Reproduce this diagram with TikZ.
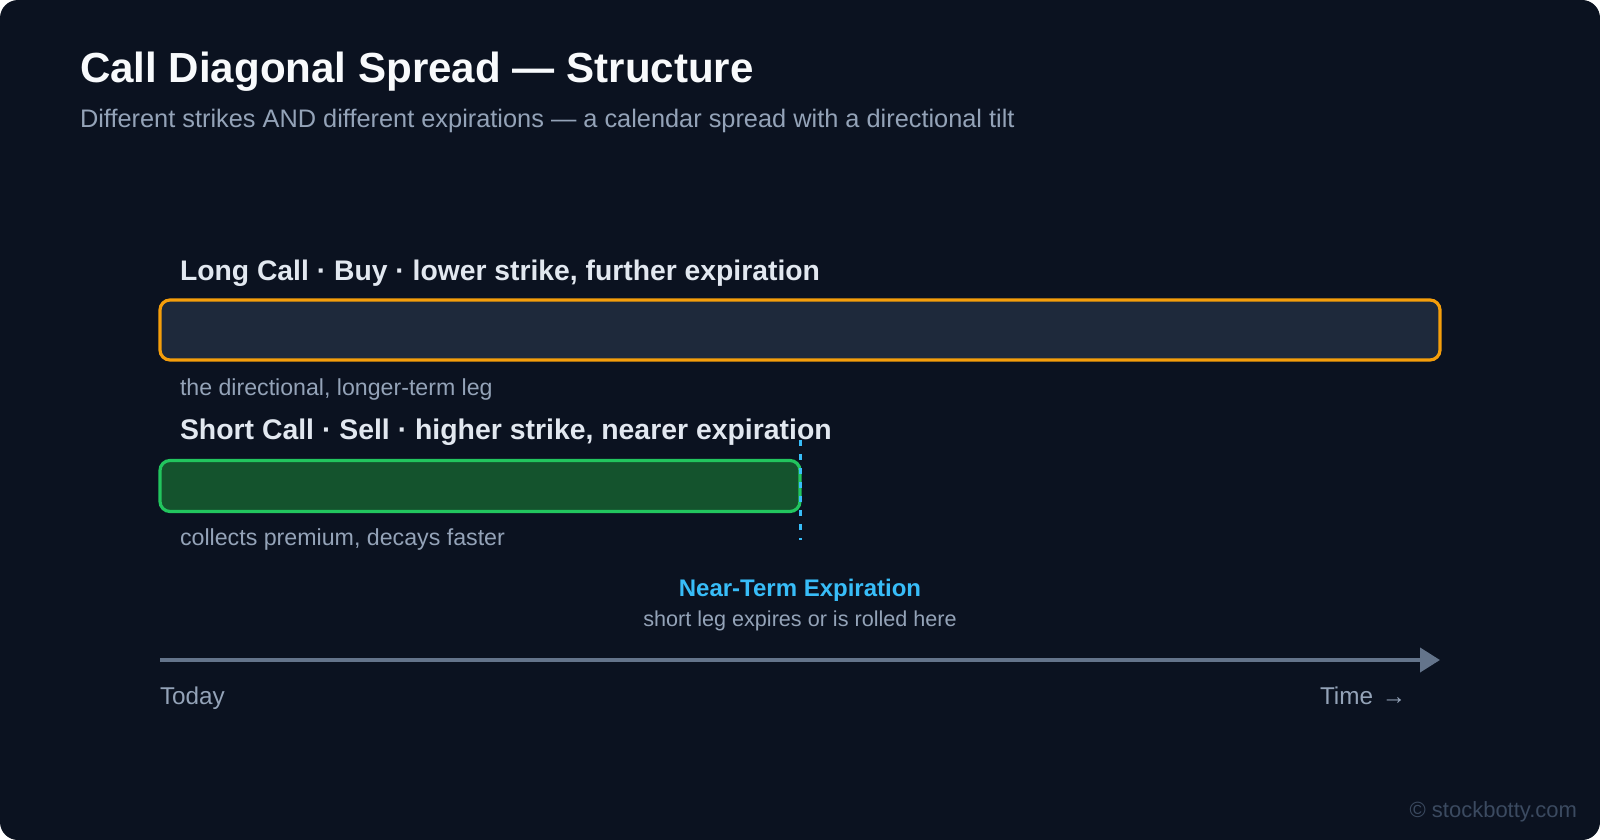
\documentclass[tikz,border=0pt]{standalone}
\usepackage{fontspec}
\setmainfont{Liberation Sans}
\usetikzlibrary{arrows.meta}
\definecolor{bg}{HTML}{0B1220}
\definecolor{titlec}{HTML}{F8FAFC}
\definecolor{subc}{HTML}{94A3B8}
\definecolor{labc}{HTML}{E2E8F0}
\definecolor{amber}{HTML}{F59E0B}
\definecolor{slatefill}{HTML}{1E293B}
\definecolor{greenc}{HTML}{22C55E}
\definecolor{greenfill}{HTML}{14532D}
\definecolor{skyc}{HTML}{38BDF8}
\definecolor{axisc}{HTML}{64748B}
\definecolor{wmc}{HTML}{3B4A60}
\newcommand{\fsz}[1]{\fontsize{#1}{#1}\selectfont}
\tikzset{
  txt/.style={inner sep=0pt, outer sep=0pt, anchor=base west},
  legbox/.style={rectangle, rounded corners=10pt, line width=3.2pt, inner sep=0pt, outer sep=0pt},
}
\begin{document}
\begin{tikzpicture}[x=1pt,y=-1pt]
\useasboundingbox (0,0) rectangle (1600,840);
\fill[white] (0,0) rectangle (1600,840);
\fill[bg, rounded corners=18pt] (0,0) rectangle (1600,840);

\node[txt, text=titlec] (title) at (80,83) {\fsz{42.1}\bfseries Call Diagonal Spread — Structure};
\node[txt, text=subc] (subtitle) at (80,127.5) {\fsz{25.35}Different strikes AND different expirations — a calendar spread with a directional tilt};

\node[txt, text=labc] (longlab) at (180,280) {\fsz{28.3}\bfseries Long Call · Buy · lower strike, further expiration};
\node[legbox, draw=amber, fill=slatefill, minimum width=1280pt, minimum height=60pt] (longbox) at (800,330) {};
\node[txt, text=subc] (longsub) at (180,395) {\fsz{23.15}the directional, longer-term leg};

\node[txt, text=labc] (shortlab) at (180,439) {\fsz{28.4}\bfseries Short Call · Sell · higher strike, nearer expiration};
\node[legbox, draw=greenc, fill=greenfill, minimum width=640pt, minimum height=51pt] (shortbox) at (480,486) {};
\node[txt, text=subc] (shortsub) at (180,545) {\fsz{23.2}collects premium, decays faster};

\coordinate (dtop) at (800,440);
\coordinate (dbot) at (800,540);
\draw[skyc, line width=3pt, dash pattern=on 6pt off 8pt] (dtop) -- (dbot);

\node[txt, anchor=base, text=skyc] (nearlab) at (800,596) {\fsz{24}\bfseries Near-Term Expiration};
\node[txt, anchor=base, text=subc] (nearsub) at (800,626.5) {\fsz{21.6}short leg expires or is rolled here};

\coordinate (axs) at (160,660);
\coordinate (axe) at (1440,660);
\draw[axisc, line width=4pt, -{Triangle[length=20pt,width=24pt]}] (axs) -- (axe);

\node[txt, text=subc] (today) at (160,704) {\fsz{24.3}Today};
\node[txt, text=subc] (time) at (1320,704) {\fsz{24.3}Time\hspace{2pt} →};

\node[txt, anchor=base east, text=wmc] (wm) at (1577,817) {\fsz{22}© stockbotty.com};
\end{tikzpicture}
\end{document}
